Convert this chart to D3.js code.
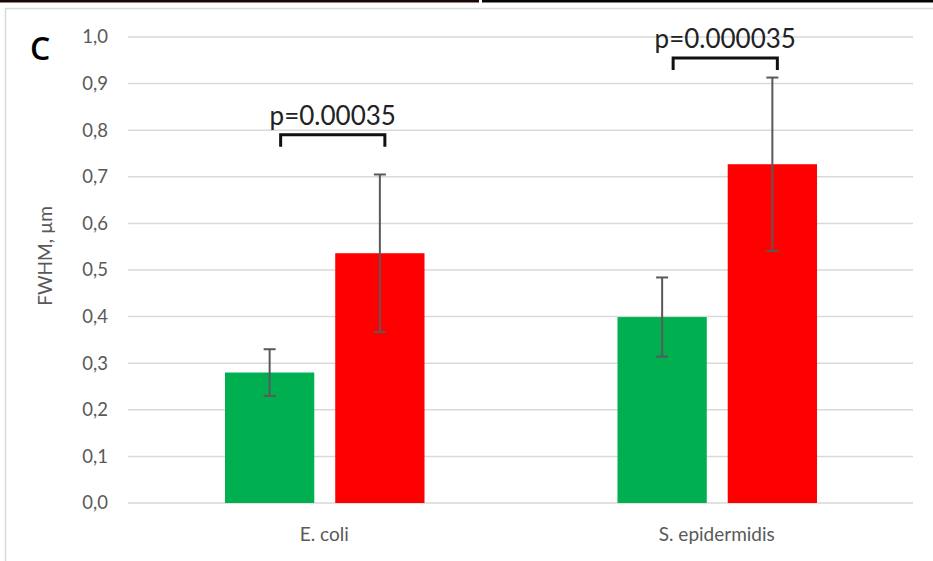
<!DOCTYPE html>
<html>
<head>
<meta charset="utf-8">
<script src="https://cdn.jsdelivr.net/npm/d3@7"></script>
<style>
  body { margin: 0; background: #fff; }
  svg { display: block; font-family: Lato, "Open Sans", sans-serif; }
</style>
</head>
<body>
<svg id="chart" width="933" height="561"></svg>
<script>
const categories = ["E. coli", "S. epidermidis"];
const series = ["control", "treated"];
const means = [[0.28, 0.536], [0.399, 0.727]];
const errors = [[0.05, 0.169], [0.085, 0.186]];
const pLabels = ["p=0.00035", "p=0.000035"];
const bracketLevels = [0.79, 0.955];
const yTicks = [0, 0.1, 0.2, 0.3, 0.4, 0.5, 0.6, 0.7, 0.8, 0.9, 1.0];
const colors = ["#00b050", "#ff0000"];

const svg = d3.select("#chart");
const W = 933, H = 561;

// bits of the surrounding figure
svg.append("rect").attr("x", 0).attr("y", 0).attr("width", 479).attr("height", 2.5).attr("fill", "#1c0606");
svg.append("rect").attr("x", 482).attr("y", 0).attr("width", W - 482).attr("height", 2.5).attr("fill", "#050505");
svg.append("path")
  .attr("d", `M5.5,${H} V8.5 H${W}`)
  .attr("fill", "none").attr("stroke", "#d9d9d9").attr("stroke-width", 1.5);

const x = d3.scaleBand().domain(categories).range([128, 913]);
const y = d3.scaleLinear().domain([0, 1]).range([503, 37]);
const inner = d3.scaleBand().domain(series).range([97, x.bandwidth() - 96]).paddingInner(0.19);

// gridlines
svg.append("g").selectAll("line").data(yTicks).join("line")
  .attr("x1", 128).attr("x2", 913)
  .attr("y1", d => y(d)).attr("y2", d => y(d))
  .attr("stroke", "#d9d9d9").attr("stroke-width", 1.5);

// y tick labels
svg.append("g").selectAll("text").data(yTicks).join("text")
  .attr("x", 108).attr("y", d => y(d)).attr("dy", "0.35em")
  .attr("text-anchor", "end").attr("fill", "#595959").attr("font-size", 18.5)
  .text(d => d3.format(".1f")(d).replace(".", ","));

// y title
svg.append("text")
  .attr("transform", "translate(52,256) rotate(-90)")
  .attr("text-anchor", "middle").attr("fill", "#595959").attr("font-size", 19)
  .text("FWHM, µm");

// panel letter
svg.append("text").attr("x", 30).attr("y", 60)
  .attr("font-size", 32).attr("font-weight", 600).attr("fill", "#000")
  .attr("font-family", "'Open Sans', sans-serif")
  .text("C");

// bars
const groups = svg.append("g").selectAll("g").data(categories).join("g")
  .attr("transform", d => `translate(${x(d)},0)`);

groups.each(function (cat, ci) {
  const g = d3.select(this);
  series.forEach((s, si) => {
    const v = means[ci][si], e = errors[ci][si];
    const cx = inner(s) + inner.bandwidth() / 2;
    g.append("rect")
      .attr("x", inner(s)).attr("width", inner.bandwidth())
      .attr("y", y(v)).attr("height", y(0) - y(v))
      .attr("fill", colors[si]);
    g.append("line")
      .attr("x1", cx).attr("x2", cx).attr("y1", y(v + e)).attr("y2", y(v - e))
      .attr("stroke", "#595959").attr("stroke-width", 2);
    [v + e, v - e].forEach(t => {
      g.append("line")
        .attr("x1", cx - 6).attr("x2", cx + 6).attr("y1", y(t)).attr("y2", y(t))
        .attr("stroke", "#595959").attr("stroke-width", 2);
    });
  });
  // significance bracket
  const left = inner(series[0]) + inner.bandwidth() / 2 + 11;
  const right = inner(series[1]) + inner.bandwidth() / 2 + 5;
  const by = y(bracketLevels[ci]);
  g.append("path")
    .attr("d", `M${left},${by + 12} V${by} H${right} V${by + 12}`)
    .attr("fill", "none").attr("stroke", "#111").attr("stroke-width", 3);
  g.append("text")
    .attr("x", (left + right) / 2).attr("y", by - 10)
    .attr("text-anchor", "middle").attr("font-size", 26).attr("fill", "#222")
    .text(pLabels[ci]);
});

// x labels
svg.append("g").selectAll("text").data(categories).join("text")
  .attr("x", d => x(d) + x.bandwidth() / 2).attr("y", 541)
  .attr("text-anchor", "middle").attr("fill", "#595959").attr("font-size", 19)
  .text(d => d);
</script>
</body>
</html>
